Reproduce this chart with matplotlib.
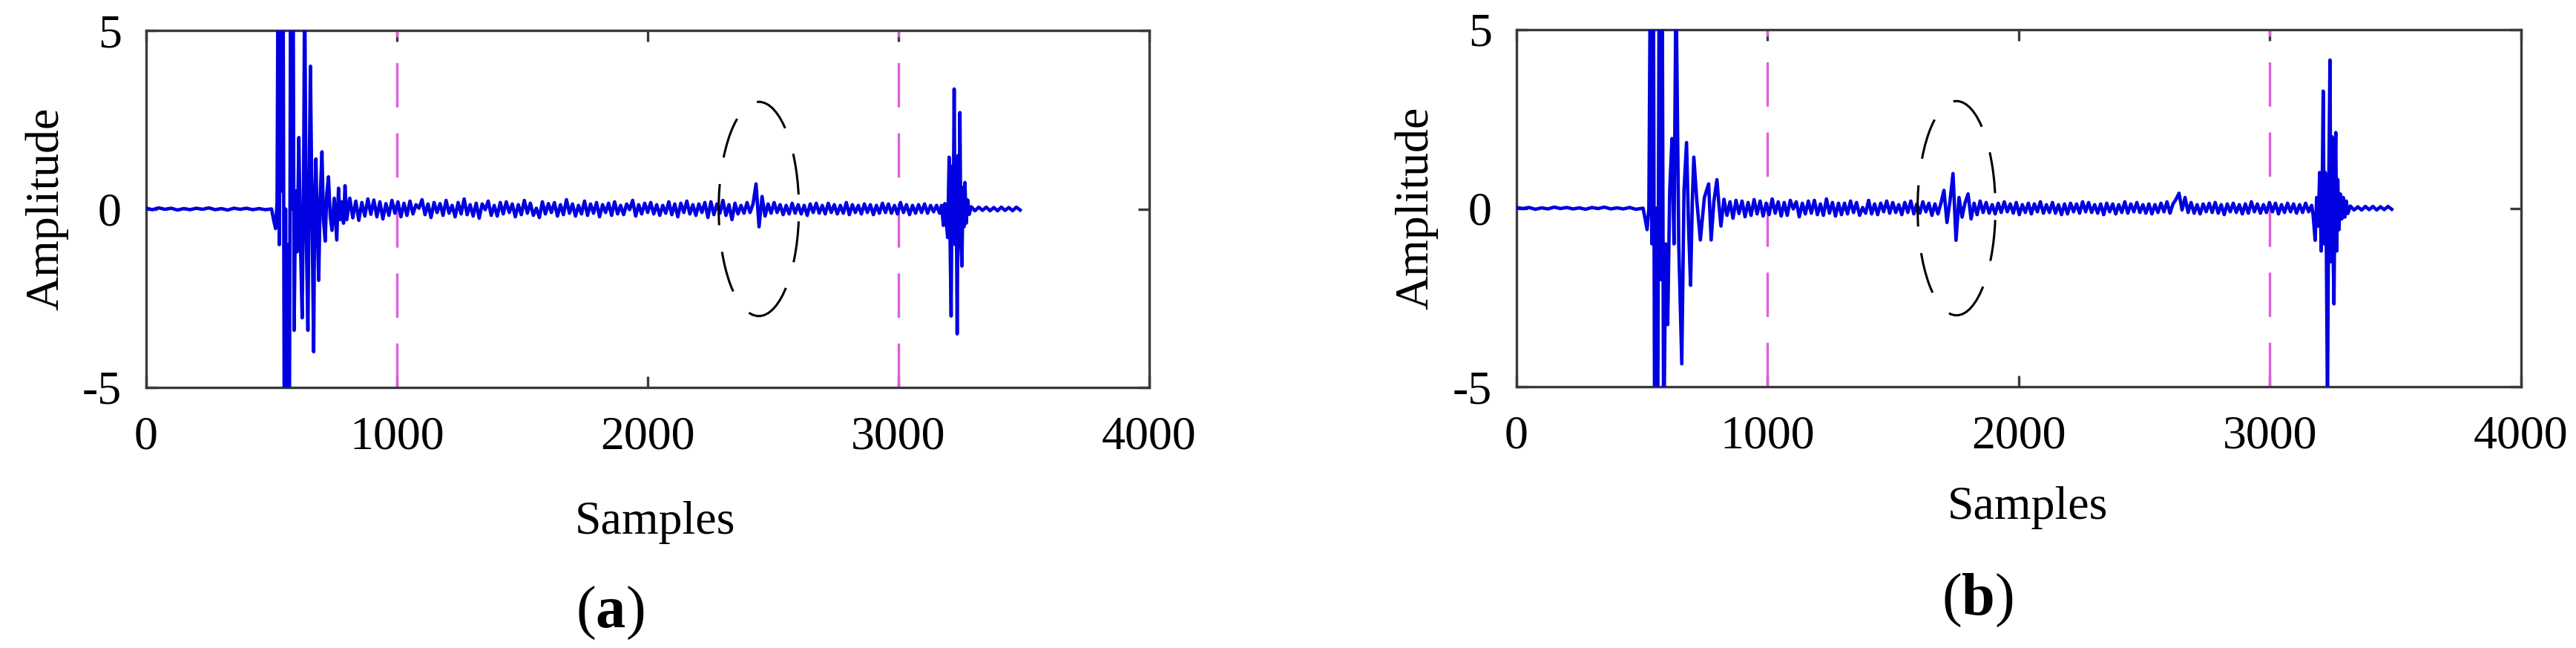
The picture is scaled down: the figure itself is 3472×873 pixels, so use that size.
import numpy as np
import matplotlib
matplotlib.use("Agg")
import matplotlib.pyplot as plt
from matplotlib.patches import Ellipse

plt.rcParams['font.family'] = ['Liberation Serif', 'DejaVu Serif']
plt.rcParams['axes.unicode_minus'] = False
plt.rcParams['lines.scale_dashes'] = False
plt.rcParams['mathtext.fontset'] = 'custom'
plt.rcParams['mathtext.rm'] = 'Liberation Serif'
plt.rcParams['mathtext.bf'] = 'Liberation Serif:bold'

# ---------------- data ----------------
x_ticks = [0, 1000, 2000, 3000, 4000]
y_ticks = [-5, 0, 5]
marker_lines = [1000, 3000]
panel_labels = ['a', 'b']

# panel (a)
a_pre_start, a_pre_step = 0, 25
a_pre = [0.02, -0.02, 0.03, -0.01, 0.02, -0.03, 0.01, -0.02, 0.02, -0.01,
         0.03, -0.02, 0.01, -0.03, 0.02, -0.01, 0.02, -0.02, 0.01, -0.02]
a_burst1_x = [500, 508, 516, 522, 526, 531, 536, 541, 546, 551,
              556, 561, 566, 571, 576, 581, 586, 590, 596, 602,
              609, 615, 622, 628, 632, 638, 645, 650, 655, 662,
              668, 672, 677, 682, 688, 694, 701, 707, 714, 720,
              727, 734, 741, 750, 760, 767, 774, 780, 787, 793, 800]
a_burst1_y = [0.0, -0.3, -0.55, 0.2, 7.0, -1.0, 7.0, 0.5, 7.0, -7.0,
              0.0, -7.0, -1.0, -7.0, 7.0, 0.0, 7.0, -3.4, 0.5, -1.2,
              2.0, -0.8, -3.05, 1.0, 6.5, -0.5, -3.4, 0.8, 4.0, -0.5,
              -4.0, 0.2, 1.4, -0.4, -2.0, 0.3, 1.6, -0.3, -0.9, 0.4,
              0.9, -0.2, -0.6, 0.3, -0.87, 0.58, -0.3, 0.2, -0.4, 0.65, -0.3]
a_noise_start, a_noise_step = 812, 12
a_noise = [0.30, -0.25, 0.22, -0.32, 0.18, -0.20, 0.28, -0.15, 0.25, -0.22,
           0.20, -0.28, 0.15, -0.18, 0.24, -0.12, 0.20, -0.22, 0.16, -0.18,
           0.22, -0.14, 0.12, 0.02, 0.26, -0.16, 0.14, -0.24, 0.18, -0.10,
           0.15, -0.18, 0.24, -0.12, 0.10, -0.22, 0.18, -0.14, 0.28, -0.16,
           0.12, -0.20, 0.16, -0.26, 0.14, -0.02, 0.22, -0.18, 0.10, -0.20,
           0.18, -0.14, 0.20, -0.10, 0.14, -0.22, 0.12, -0.16, 0.24, -0.12,
           0.16, -0.18, 0.02, -0.24, 0.20, -0.14, 0.15, -0.10, 0.18, -0.20,
           0.12, -0.16, 0.26, -0.12, 0.14, -0.20, 0.10, -0.14, 0.22, -0.18,
           0.14, -0.12, 0.18, -0.22, 0.12, -0.10, 0.16, -0.18, 0.20, -0.14,
           0.10, -0.16, 0.14, -0.02, 0.24, -0.20, 0.12, -0.14, 0.16, -0.10,
           0.18, -0.14, 0.12, -0.18, 0.10, -0.12, 0.20, -0.16, 0.14, -0.22,
           0.16, -0.10, 0.22, -0.14, 0.12, -0.18, 0.14, -0.10, 0.18, -0.24,
           0.20, -0.16, 0.14, -0.12, 0.24, -0.18, 0.12, -0.30, 0.16, -0.14,
           0.10, -0.12, 0.18, -0.10, 0.14, 0.70, -0.50, 0.35, -0.20, 0.14,
           -0.12, 0.18, -0.10, 0.12, -0.16, 0.10, -0.14, 0.16, -0.12, 0.12,
           -0.14, 0.10, -0.18, 0.14, -0.10, 0.16, -0.12, 0.10, -0.14, 0.16,
           -0.10, 0.12, -0.14, 0.10, -0.12, 0.18, -0.16, 0.12, -0.10, 0.10,
           -0.14, 0.14, -0.10, 0.12, -0.16, 0.10, -0.12, 0.16, -0.10, 0.14,
           -0.12, 0.10, -0.14, 0.18, -0.10, 0.12, -0.16, 0.10, -0.12, 0.12,
           -0.10, 0.14, -0.12, 0.10, -0.08, 0.10, -0.12]
a_burst2_x = [3172, 3179, 3185, 3190, 3196, 3202, 3206, 3210, 3214, 3218,
              3222, 3226, 3230, 3234, 3238, 3242, 3245, 3249, 3253, 3257,
              3261, 3265, 3270, 3276, 3282]
a_burst2_y = [0.1, -0.46, 0.15, -0.3, -0.8, 1.45, -1.0, -3.0, 1.2, -0.8,
              3.36, -1.0, 1.0, -3.5, 1.5, -0.8, 2.7, -1.0, -1.6, 0.6,
              -0.5, 0.74, -0.4, 0.25, -0.15]
a_tail_start, a_tail_step = 3290, 15
a_tail = [0.06, -0.05, 0.05, -0.04, 0.05, -0.05, 0.04, -0.05, 0.05, -0.04,
          0.04, -0.05, 0.05, -0.03]
a_ellipse = (2443, 0.0, 320, 6.0)   # centre x, centre y, width, height

# panel (b)
b_pre_start, b_pre_step = 0, 25
b_pre = [0.02, -0.01, 0.02, -0.03, 0.01, -0.02, 0.03, -0.01, 0.02, -0.02,
         0.01, -0.03, 0.02, -0.01, 0.03, -0.02, 0.01, -0.02, 0.02, -0.03]
b_burst1_x = [504, 512, 520, 527, 533, 539, 545, 550, 556, 562,
              568, 574, 580, 586, 594, 602, 610, 619, 627, 635,
              646, 658, 667, 677, 685, 693, 700, 706, 718, 732,
              748, 765, 775, 786, 798, 806, 814]
b_burst1_y = [0.0, -0.3, -0.6, 0.0, 7.0, -1.0, 7.0, -7.0, 0.0, -7.0,
              7.0, -2.0, 7.0, -7.0, -1.0, -3.26, 0.5, 1.95, -1.0, 6.5,
              -1.0, -4.36, 0.5, 1.84, -0.5, -2.16, 0.2, 1.43, 0.2, -0.89,
              0.3, 0.68, -0.89, 0.2, 0.8, 0.1, -0.5]
b_noise_start, b_noise_step = 826, 12
b_noise = [0.25, -0.20, 0.18, -0.28, 0.22, -0.15, 0.20, -0.24, 0.16, -0.20,
           0.24, -0.16, 0.20, -0.22, 0.14, -0.18, 0.26, -0.14, 0.18, -0.22,
           0.16, -0.20, 0.22, -0.02, 0.18, -0.24, 0.14, -0.16, 0.20, -0.14,
           0.22, -0.18, 0.12, -0.20, 0.26, -0.14, 0.16, -0.22, 0.14, -0.18,
           0.14, -0.16, 0.20, -0.12, 0.16, -0.20, 0.02, -0.14, 0.22, -0.16,
           0.12, -0.18, 0.14, -0.10, 0.20, -0.14, 0.16, -0.12, 0.10, -0.18,
           0.16, -0.12, 0.20, -0.16, 0.12, -0.14, 0.18, -0.10, 0.14, -0.20,
           0.12, -0.16, 0.14, 0.50, -0.40, 0.20, 0.97, -0.90, 0.30, -0.25,
           0.15, 0.40, -0.30, 0.14, -0.18, 0.20, -0.12, 0.16, -0.14, 0.10,
           -0.16, 0.14, -0.12, 0.18, -0.10, 0.12, -0.14, 0.16, -0.18, 0.10,
           -0.12, 0.14, -0.16, 0.12, -0.10, 0.18, -0.14, 0.10, -0.12, 0.16,
           -0.14, 0.10, -0.18, 0.12, -0.16, 0.14, -0.10, 0.12, -0.14, 0.18,
           -0.10, 0.16, -0.12, 0.10, -0.14, 0.12, -0.18, 0.14, -0.10, 0.12,
           -0.16, 0.10, -0.12, 0.18, -0.14, 0.12, -0.10, 0.16, -0.12, 0.10,
           -0.14, 0.12, -0.16, 0.10, -0.12, 0.14, -0.10, 0.18, -0.14, 0.12,
           0.25, 0.42, -0.05, 0.30, -0.12, 0.16, -0.14, 0.10, -0.16, 0.12,
           -0.10, 0.14, -0.12, 0.16, -0.14, 0.10, -0.18, 0.12, -0.10, 0.14,
           -0.12, 0.10, -0.16, 0.12, -0.14, 0.18, -0.10, 0.12, -0.14, 0.10,
           -0.12, 0.16, -0.10, 0.14, -0.16, 0.10, -0.12, 0.14, -0.10, 0.12,
           -0.14, 0.10, -0.12, 0.14, -0.10, 0.08]
b_burst2_x = [3172, 3180, 3186, 3192, 3198, 3204, 3208, 3212, 3216, 3220,
              3224, 3229, 3234, 3239, 3243, 3247, 3251, 3255, 3259, 3262,
              3266, 3270, 3275, 3280, 3286, 3292, 3298, 3304, 3310]
b_burst2_y = [-0.2, -0.9, 0.3, -0.5, 1.0, -1.2, 0.5, 3.28, -1.0, 1.0,
              -0.5, -5.6, 0.5, 4.15, -1.5, 2.0, -1.0, -2.68, 1.0, 2.12,
              -1.2, 0.8, -0.6, 0.4, -0.3, 0.3, -0.25, 0.2, -0.15]
b_tail_start, b_tail_step = 3320, 15
b_tail = [0.06, -0.05, 0.04, -0.05, 0.05, -0.04, 0.05, -0.05, 0.04, -0.04,
          0.05, -0.03]
b_ellipse = (1752, 0.0, 310, 6.0)


def assemble(pre_start, pre_step, pre, b1x, b1y, n_start, n_step, noise,
             b2x, b2y, t_start, t_step, tail):
    xs = np.concatenate([
        pre_start + pre_step * np.arange(len(pre)), b1x,
        n_start + n_step * np.arange(len(noise)), b2x,
        t_start + t_step * np.arange(len(tail))]).astype(float)
    ys = np.concatenate([pre, b1y, noise, b2y, tail]).astype(float)
    return xs, ys


series = [
    assemble(a_pre_start, a_pre_step, a_pre, a_burst1_x, a_burst1_y,
             a_noise_start, a_noise_step, a_noise, a_burst2_x, a_burst2_y,
             a_tail_start, a_tail_step, a_tail),
    assemble(b_pre_start, b_pre_step, b_pre, b_burst1_x, b_burst1_y,
             b_noise_start, b_noise_step, b_noise, b_burst2_x, b_burst2_y,
             b_tail_start, b_tail_step, b_tail),
]
ellipses = [a_ellipse, b_ellipse]

# ---------------- layout ----------------
W, H = 3473, 873
fig = plt.figure(figsize=(W / 100, H / 100), dpi=100)
fig.patch.set_facecolor('white')

axes_px = [(197, 41, 1549, 522), (2044, 40, 3398, 521)]
xlabel_pos = [(0.507, -0.318), (0.509, -0.279)]
panel_lab_px = [(822, 845), (2665, 828)]

spine_col = '#3a3a3a'
for k, (l, t, r, b) in enumerate(axes_px):
    ax = fig.add_axes([l / W, 1 - b / H, (r - l) / W, (b - t) / H])
    xs, ys = series[k]
    ax.plot(xs, ys, color='#0000e0', lw=3.3, solid_joinstyle='round', zorder=3)
    for xv in marker_lines:
        ax.plot([xv, xv], [y_ticks[0], y_ticks[-1]], color='#dd5fdd', lw=2.4,
                linestyle=(0, (43, 25)), zorder=2)
    cx, cy, ew, eh = ellipses[k]
    ax.add_patch(Ellipse((cx, cy), ew, eh, fill=False, edgecolor='black',
                         lw=2.2, linestyle=(0, (40, 26)), zorder=4))
    ax.set_xlim(x_ticks[0], x_ticks[-1])
    ax.set_ylim(y_ticks[0], y_ticks[-1])
    ax.set_xticks(x_ticks)
    ax.set_yticks(y_ticks)
    ax.set_xticklabels([str(v) for v in x_ticks])
    ax.set_yticklabels([str(v) for v in y_ticks])
    ax.tick_params(axis='both', direction='in', length=11, width=2.4,
                   color=spine_col, labelsize=46, top=True, right=True)
    ax.tick_params(axis='x', pad=28)
    ax.tick_params(axis='y', pad=24)
    for sp in ax.spines.values():
        sp.set_color(spine_col)
        sp.set_linewidth(2.4)
    ax.set_ylabel('Amplitude', fontsize=46)
    ax.yaxis.set_label_coords(-0.0777, 0.5)
    ax.set_xlabel('Samples', fontsize=46)
    ax.xaxis.set_label_coords(*xlabel_pos[k])
    px, py = panel_lab_px[k]
    fig.text(px / W, 1 - py / H, '($\\mathbf{%s}$)' % panel_labels[k],
             fontsize=58, ha='center', va='baseline')

fig.savefig('out.png', dpi=100, facecolor='white')
